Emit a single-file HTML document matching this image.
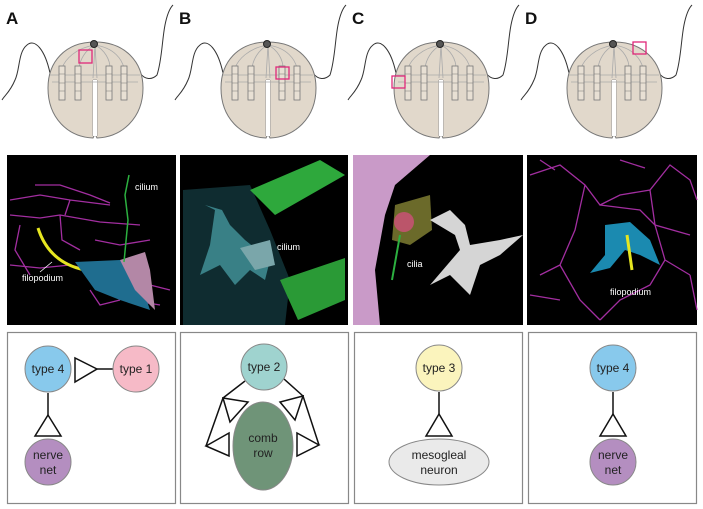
<!DOCTYPE html>
<html><head><meta charset="utf-8"><style>
html,body{margin:0;padding:0;background:#fff}
svg{display:block}
text{font-family:"Liberation Sans",sans-serif}
</style></head><body>
<svg width="703" height="509" viewBox="0 0 703 509" xmlns="http://www.w3.org/2000/svg">
<defs>
<g id="cteno">
  <path d="M50,73 C45,50 35,38 27,45 C18,52 20,70 15,80 C10,92 5,95 2,100" fill="none" stroke="#333" stroke-width="1"/>
  <path d="M140,73 C145,80 152,80 157,75 C162,60 162,40 165,25 C167,15 170,8 173,5" fill="none" stroke="#333" stroke-width="1"/>
  <path d="M95,42 C125,42 143,62 143,88 C143,118 122,137 97,138 L95,134 L93,138 C68,137 48,118 48,88 C48,62 65,42 95,42 Z" fill="#e1d8cb" stroke="#777" stroke-width="1"/>
  <path d="M93,80 L93,136 M97,80 L97,136 M93,80 L97,80" fill="none" stroke="#999" stroke-width="1"/>
  <rect x="93" y="80" width="4" height="56" fill="#fff"/>
  <path d="M95,45 C75,48 65,60 62,68 M95,45 C85,50 80,60 79,68 M95,45 C105,50 110,60 110,68 M95,45 C115,48 122,60 124,68 M95,45 L93,78 M95,45 L97,78 M50,75 L140,75 M52,82 L138,82" fill="none" stroke="#aaa" stroke-width="0.8"/>
  <g fill="#e8e0d4" stroke="#777" stroke-width="0.8">
    <rect x="59" y="66" width="6" height="34"/><rect x="75" y="66" width="6" height="34"/>
    <rect x="106" y="66" width="6" height="34"/><rect x="121" y="66" width="6" height="34"/>
  </g>
  <path d="M59,74h6M59,83h6M59,91h6M75,74h6M75,83h6M75,91h6M106,74h6M106,83h6M106,91h6M121,74h6M121,83h6M121,91h6" stroke="#777" stroke-width="0.6"/>
  <circle cx="94" cy="44" r="3.5" fill="#555" stroke="#222"/>
</g>
</defs>
<g font-weight="bold" font-size="17" fill="#111">
<text x="6" y="24">A</text><text x="179" y="24">B</text><text x="352" y="24">C</text><text x="525" y="24">D</text>
</g>
<use href="#cteno" x="0" y="0"/>
<use href="#cteno" x="173" y="0"/>
<use href="#cteno" x="346" y="0"/>
<use href="#cteno" x="519" y="0"/>
<g fill="none" stroke="#e0287a" stroke-width="1.3">
<rect x="79" y="50" width="13" height="13"/>
<rect x="276" y="67" width="13" height="12"/>
<rect x="392" y="76" width="13" height="12"/>
<rect x="633" y="42" width="13" height="12"/>
</g>

<rect x="7" y="155" width="169" height="170" fill="#000"/>
<rect x="180" y="155" width="168" height="170" fill="#000"/>
<rect x="353" y="155" width="170" height="170" fill="#000"/>
<rect x="527" y="155" width="170" height="170" fill="#000"/>

<!-- A -->
<g fill="none" stroke="#a22ea0" stroke-width="1.3">
<path d="M10,200 L40,195 L70,200 L110,205 M35,185 L60,185 L90,195 L110,203 M10,215 L40,218 L60,215 L100,222 L140,225 M60,215 L62,240 L80,250 M70,200 L65,215 M10,265 L40,268 L70,265 L90,270 M95,240 L120,245 L150,240 M20,225 L15,250 L30,275 M90,290 L100,305 L120,300 M150,285 L170,290 M130,300 L160,305"/>
</g>
<path d="M38,228 C45,250 60,265 85,270" fill="none" stroke="#e6e620" stroke-width="3"/>
<path d="M75,262 L120,260 L140,280 L150,310 L120,300 L95,290 Z" fill="#1f6d8f"/>
<path d="M120,260 L145,252 L150,270 L155,310 L135,290 Z" fill="#b387a6"/>
<path d="M129,175 L125,195 L128,220 L124,262" fill="none" stroke="#2cb040" stroke-width="1.5"/>
<text x="135" y="190" font-size="9" fill="#fff">cilium</text>
<text x="22" y="281" font-size="9" fill="#fff">filopodium</text>
<path d="M40,272 L52,262" stroke="#fff" stroke-width="0.8"/>

<!-- B -->
<path d="M183,190 L250,185 L270,230 L290,280 L285,325 L183,325 Z" fill="#0f2c30"/>
<path d="M250,190 L320,160 L345,175 L275,215 Z" fill="#2ea83c"/>
<path d="M280,280 L345,258 L345,300 L298,320 Z" fill="#2a9a36"/>
<path d="M205,205 L215,210 L210,245 L200,275 L220,265 L235,285 L250,270 L265,280 L270,260 L245,240 L230,225 L222,210 Z" fill="#3e8a90" opacity="0.9"/>
<path d="M240,248 L270,240 L275,265 L255,270 Z" fill="#7aa6aa"/>
<text x="277" y="250" font-size="9" fill="#fff">cilium</text>

<!-- C -->
<path d="M353,155 L430,155 L395,185 L385,215 L375,270 L380,325 L353,325 Z" fill="#c99ac8"/>
<path d="M395,205 L430,195 L432,230 L410,245 L392,240 Z" fill="#6b6a2a"/>
<circle cx="404" cy="222" r="10" fill="#d0507a" opacity="0.8"/>
<path d="M400,235 L392,280" stroke="#2cb040" stroke-width="2"/>
<path d="M430,220 L450,210 L465,225 L470,245 L500,240 L523,235 L500,255 L480,265 L470,295 L450,275 L430,285 L460,250 L455,235 Z" fill="#d5d5d5"/>
<text x="407" y="267" font-size="9" fill="#fff">cilia</text>

<!-- D -->
<g fill="none" stroke="#a22ea0" stroke-width="1.3">
<path d="M530,175 L560,165 L585,185 L600,205 L620,195 L650,190 L670,165 L690,180 L697,200 M585,185 L575,230 L560,265 L540,275 M600,205 L640,210 L655,225 L690,235 M650,190 L655,225 L665,260 L690,275 M560,265 L580,300 L600,320 M530,295 L560,300 M665,260 L650,285 L620,300 L600,320 M690,275 L697,310 M540,160 L555,170 M620,160 L645,168"/>
</g>
<path d="M605,225 L630,222 L650,240 L660,265 L640,255 L625,250 L610,268 L590,273 L605,255 Z" fill="#1b8ab0"/>
<path d="M627,235 L632,270" stroke="#e6e620" stroke-width="3"/>
<text x="610" y="295" font-size="9" fill="#fff">filopodium</text>

<!-- bottom boxes -->
<g fill="#fff" stroke="#888" stroke-width="1.2">
<rect x="7.5" y="332.5" width="168" height="171"/>
<rect x="180.5" y="332.5" width="168" height="171"/>
<rect x="354.5" y="332.5" width="168" height="171"/>
<rect x="528.5" y="332.5" width="168" height="171"/>
</g>
<g stroke="#111" stroke-width="1.5" fill="#fff">
<path d="M97,369 L114,369" fill="none"/>
<path d="M75,358 L75,382 L97,369 Z"/>
<path d="M48,393 L48,415" fill="none"/>
<path d="M48,415 L35,436 L61,436 Z"/>
<path d="M245,381 L223,398 L206,446 M284,379 L303,396 L319,445" fill="none"/>
<path d="M223,398 L248,402 L230,422 Z"/>
<path d="M206,446 L229,433 L229,456 Z"/>
<path d="M303,396 L280,402 L295,420 Z"/>
<path d="M319,445 L297,433 L297,456 Z"/>
<path d="M439,392 L439,414" fill="none"/>
<path d="M439,414 L426,436 L452,436 Z"/>
<path d="M613,392 L613,414" fill="none"/>
<path d="M613,414 L600,436 L626,436 Z"/>
</g>
<g stroke="#888" stroke-width="1">
<circle cx="48" cy="369" r="23" fill="#88c9ec"/>
<circle cx="136" cy="369" r="23" fill="#f6bac7"/>
<circle cx="48" cy="462" r="23" fill="#b48ec0"/>
<circle cx="264" cy="367" r="23" fill="#9fd3cf"/>
<ellipse cx="263" cy="446" rx="30" ry="44" fill="#6f9478"/>
<circle cx="439" cy="368" r="23" fill="#fbf4bd"/>
<ellipse cx="439" cy="462" rx="50" ry="23" fill="#eaeaea"/>
<circle cx="613" cy="368" r="23" fill="#88c9ec"/>
<circle cx="613" cy="462" r="23" fill="#b48ec0"/>
</g>
<g font-size="12" fill="#222" text-anchor="middle">
<text x="48" y="373">type 4</text>
<text x="136" y="373">type 1</text>
<text x="48" y="459">nerve</text><text x="48" y="474">net</text>
<text x="264" y="371">type 2</text>
<text x="263" y="442">comb</text><text x="263" y="457">row</text>
<text x="439" y="372">type 3</text>
<text x="439" y="459">mesogleal</text><text x="439" y="474">neuron</text>
<text x="613" y="372">type 4</text>
<text x="613" y="459">nerve</text><text x="613" y="474">net</text>
</g>
</svg>
</body></html>
